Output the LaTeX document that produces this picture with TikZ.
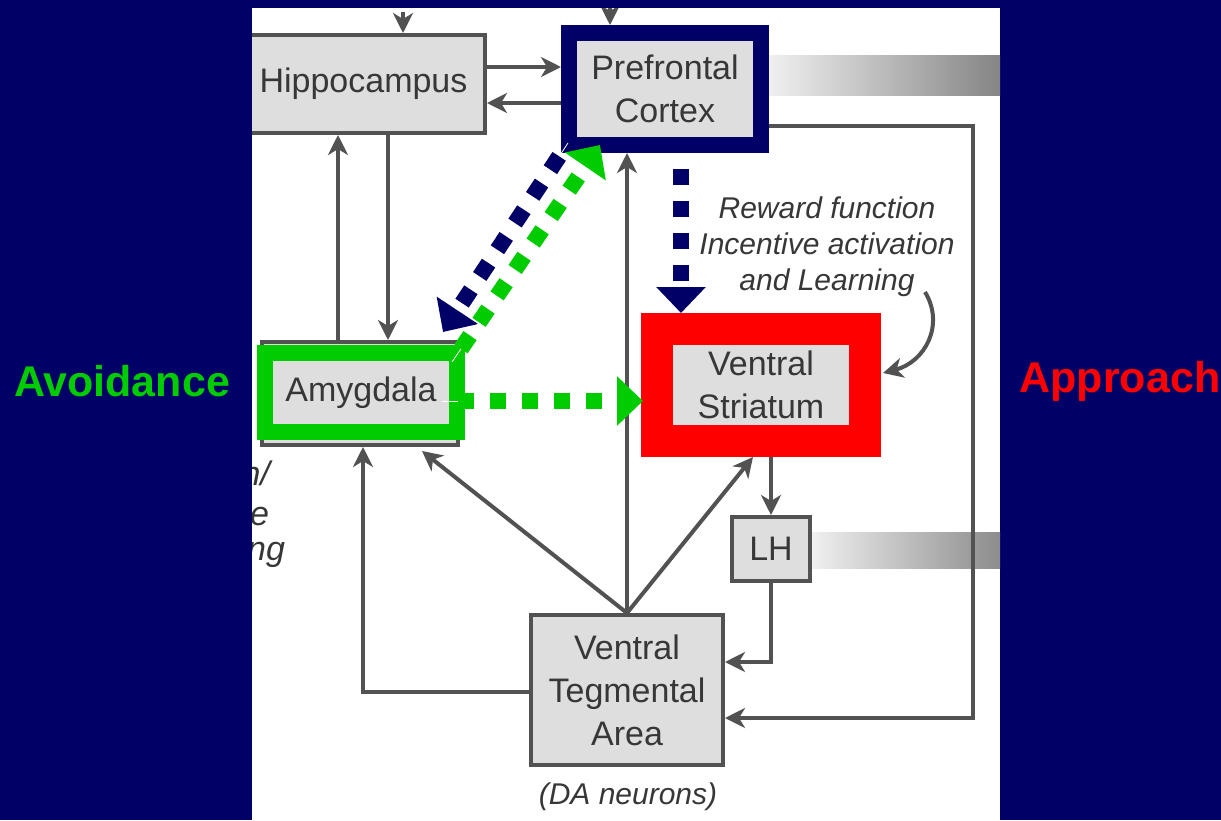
\documentclass[tikz,border=0pt]{standalone}
\usepackage{fontspec}
\setmainfont{Liberation Sans}
\usetikzlibrary{calc,arrows.meta}

\definecolor{slidebg}{RGB}{0,0,102}
\definecolor{avgreen}{RGB}{0,204,0}
\definecolor{apred}{RGB}{255,0,0}
\definecolor{boxgray}{RGB}{222,222,222}
\definecolor{inkgray}{RGB}{82,82,82}
\definecolor{txtgray}{RGB}{55,55,55}

\tikzset{
  region/.style={draw=inkgray, line width=2pt, fill=boxgray, align=center, text=txtgray,
    font=\fontsize{17}{21.5}\selectfont, inner sep=0pt},
  link/.style={draw=inkgray, line width=2pt, -{Stealth[length=10pt,width=10pt,inset=3pt]}},
  note/.style={text=txtgray, align=center, font=\fontsize{15}{18}\selectfont\itshape},
  hilite/.style={line width=8pt, dash pattern=on 8pt off 8pt, dash phase=8pt,
    -{Triangle[length=13pt,width=24pt]},
    preaction={draw=white, solid, -, shorten >=12pt}},
  side/.style={font=\fontsize{21.5}{26}\selectfont\bfseries}
}

\begin{document}
\begin{tikzpicture}[x=0.5pt,y=-0.5pt]
        \useasboundingbox (0,0) rectangle (1221,820);
        % Slide
        \fill[slidebg] (0,0) rectangle (1221,820);
        \fill[white] (252,8) rectangle (1000,820);

        \begin{scope}
        \clip (252,8) rectangle (1000,820);

        % Output bars
        \shade[left color=white!94!black, right color=white!52!black] (769,55) rectangle (1000,95);
        \shade[left color=white!94!black, right color=white!55!black] (812,532) rectangle (1000,568);

        % Boxes
        \node[region, minimum width=121.5pt, minimum height=49pt] (hippo) at (363.5,84) {Hippocampus};
        \node[region, draw=slidebg, line width=8pt, minimum width=96pt, minimum height=56pt] (pfc) at (665,89) {Prefrontal\\Cortex};
        \node[region, minimum width=98pt, minimum height=51.5pt] (amyg) at (360,393.5) {};
        \node[region, draw=avgreen, line width=8pt, minimum width=96pt, minimum height=39.5pt] (amygframe) at (361,392.5) {Amygdala};
        \node[region, draw=apred, line width=16pt, minimum width=104pt, minimum height=56pt] (vs) at (761,385) {Ventral\\Striatum};
        \node[region, minimum width=39pt, minimum height=32pt] (lh) at (771,549) {LH};
        \node[region, minimum width=96pt, minimum height=75pt] (vta) at (627,690) {Ventral\\Tegmental\\Area};

        % Labels
        \node[note] (reward) at (827,247) {Reward function\\Incentive activation\\and Learning};
        \node[note] (daneu) at (628,797) {(DA neurons)};
        \node[note, font=\fontsize{17}{20}\selectfont\itshape, anchor=base east] (fragA) at (277,485) {n/};
        \node[note, font=\fontsize{17}{20}\selectfont\itshape, anchor=base east] (fragB) at (276,525) {ve};
        \node[note, font=\fontsize{17}{20}\selectfont\itshape, anchor=base east] (fragC) at (292,560) {ing};

        % Inputs from above
        \coordinate (inA) at (403,12);
        \coordinate (inB) at (610,4);
        \draw[link] (inA) -- (inA |- hippo.north);
        \draw[link] (inB) -- (inB |- pfc.north);

        % Hippocampus <-> PFC
        \draw[link] ($(hippo.east)+(0,-17)$) -- ($(pfc.west)+(0,-22)$);
        \draw[link] ($(pfc.west)+(0,14)$) -- ($(hippo.east)+(0,19)$);

        % Hippocampus <-> Amygdala
        \draw[link] ($(amyg.north)+(-22,0)$) coordinate (upA) -- (upA |- hippo.south);
        \draw[link] ($(hippo.south)+(24.5,0)$) coordinate (dnA) -- (dnA |- amyg.north);

        % From VTA
        \draw[link] (vta.north) -- (vta.north |- pfc.south);
        \draw[link] (vta.north) -- ($(amyg.south)+(62,4)$);
        \draw[link] (vta.north) -- ($(vs.south)+(-8,0)$);
        \draw[link] ($(vta.west)+(0,2)$) -| ($(amyg.south)+(3,0)$);

        % Striatum -> LH -> VTA
        \draw[link] (lh.north |- vs.south) -- (lh.north);
        \draw[link] (lh.south) |- ($(vta.east)+(0,-28)$);

        % PFC loop back to VTA
        \draw[link] ($(pfc.east)+(0,37)$) -- ++(204,0) |- ($(vta.east)+(0,28)$);

        % Reward curve
        \coordinate (curlA) at (925,292);
        \draw[link] (curlA) .. controls (945,325) and (925,362) .. ($(vs.east)+(2,-12)$);

        % Highlight arrows
        \draw[hilite, slidebg] ($(pfc.south)+(16,0)$) coordinate (navA) -- (navA |- vs.north);
        \draw[hilite, slidebg] ($(pfc.south west)+(7,-10)$) -- ($(amygframe.north east)+(-22,-13)$);
        \draw[hilite, avgreen] ($(amygframe.north east)+(-13,17)$) -- ($(pfc.south west)+(39,-8)$);
        \draw[hilite, avgreen] ($(amygframe.east)+(-23,8.5)$) -- ($(vs.west)+(2,16)$);
        \end{scope}

        % Side words
        \node[side, text=avgreen] (avoid) at (122,381) {Avoidance};
        \node[side, text=apred] (appr) at (1120,381) {Approach};
    \end{tikzpicture}
\end{document}
